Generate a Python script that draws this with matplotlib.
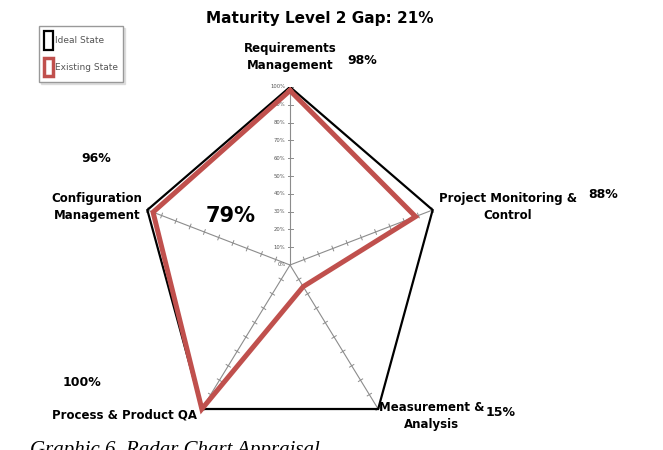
import numpy as np
import matplotlib.pyplot as plt
from matplotlib.patches import Patch

plt.rcParams['font.family'] = ['Liberation Sans Narrow', 'DejaVu Sans']

categories = ["Requirements\nManagement", "Project Monitoring &\nControl",
              "Measurement &\nAnalysis", "Process & Product QA",
              "Configuration\nManagement"]
ideal = [1.00, 1.00, 1.00, 1.00, 1.00]
existing = [0.98, 0.88, 0.15, 1.00, 0.96]
pct_labels = ["98%", "88%", "15%", "100%", "96%"]
avg_label = "79%"
title = "Maturity Level 2 Gap: 21%"
tick_vals = np.arange(0, 1.01, 0.1)

fig = plt.figure(figsize=(6.63, 4.5), dpi=100)
# radar area, unequal x/y scale like the original picture
ax = fig.add_axes([140 / 663, 1 - 443 / 450, 300 / 663, 356 / 450])
ax.set_xlim(-1, 1)
ax.set_ylim(-1, 1)
ax.axis('off')

n = len(categories)
theta = np.arange(n) * 2 * np.pi / n
sx, sy = 150.0, 178.0  # px per unit


def xy(vals):
    v = np.asarray(vals)
    x = v * np.sin(theta)
    y = v * np.cos(theta)
    return np.append(x, x[0]), np.append(y, y[0])


# spokes with tick marks
for t in theta:
    ax.plot([0, np.sin(t)], [0, np.cos(t)], color='#8c8c8c', lw=0.8, zorder=1)
    d = np.array([np.sin(t) * sx, np.cos(t) * sy])
    d = d / np.hypot(*d)
    p = np.array([-d[1], d[0]]) * 2.5
    for v in tick_vals[1:]:
        cx, cy = v * np.sin(t), v * np.cos(t)
        ax.plot([cx - p[0] / sx, cx + p[0] / sx], [cy - p[1] / sy, cy + p[1] / sy],
                color='#8c8c8c', lw=0.7, zorder=1)

# tick labels on the top spoke
for v in tick_vals:
    ax.text(-0.03, v, f"{int(round(v * 100))}%", fontsize=3.8, color='#555555',
            ha='right', va='center')

xi, yi = xy(ideal)
ax.plot(xi, yi, color='black', lw=1.6, zorder=2, solid_joinstyle='miter')
xe, ye = xy(existing)
ax.plot(xe, ye, color='#C0504D', lw=3.6, zorder=3, solid_joinstyle='miter')

# category labels and percentages (figure pixel positions)
lab_kw = dict(fontsize=8.5, fontweight='bold', linespacing=1.35)


def fpos(px, py):
    return px / 663, 1 - py / 450


fig.text(*fpos(290, 57), categories[0], ha='center', va='center', **lab_kw)
fig.text(*fpos(508, 207), categories[1], ha='center', va='center', **lab_kw)
fig.text(*fpos(432, 416), categories[2], ha='center', va='center', **lab_kw)
fig.text(*fpos(125, 415), categories[3], ha='center', va='center', **lab_kw)
fig.text(*fpos(97, 207), categories[4], ha='center', va='center', **lab_kw)

pct_pos = [(362, 60), (603, 195), (501, 412), (82, 383), (96, 158)]
for s, (px, py) in zip(pct_labels, pct_pos):
    fig.text(*fpos(px, py), s, ha='center', va='center', fontsize=9, fontweight='bold')

fig.text(*fpos(231, 216), avg_label, ha='center', va='center', fontsize=15, fontweight='bold')
fig.text(*fpos(320, 18), title, ha='center', va='center', fontsize=11, fontweight='bold')

handles = [Patch(facecolor='white', edgecolor='black', lw=1.6, label='Ideal State'),
           Patch(facecolor='white', edgecolor='#C0504D', lw=2.5, label='Existing State')]
leg = fig.legend(handles=handles, loc='upper left', bbox_to_anchor=fpos(34, 21),
                 fontsize=6.5, frameon=True, fancybox=False,
                 shadow={'color': '#c8c8c8', 'ox': 1.5, 'oy': -1.5},
                 handlelength=1.0, handleheight=2.8, handletextpad=0.2,
                 borderpad=0.6, labelspacing=0.9, labelcolor='#555555')
leg.get_frame().set_edgecolor('#999999')
leg.get_frame().set_linewidth(1.0)

# caption cut off at the bottom edge
fig.text(*fpos(30, 455), "Graphic 6. Radar Chart Appraisal", ha='left', va='baseline',
         fontsize=15, fontstyle='italic', family='Liberation Serif')

fig.savefig('out.png', dpi=100)
